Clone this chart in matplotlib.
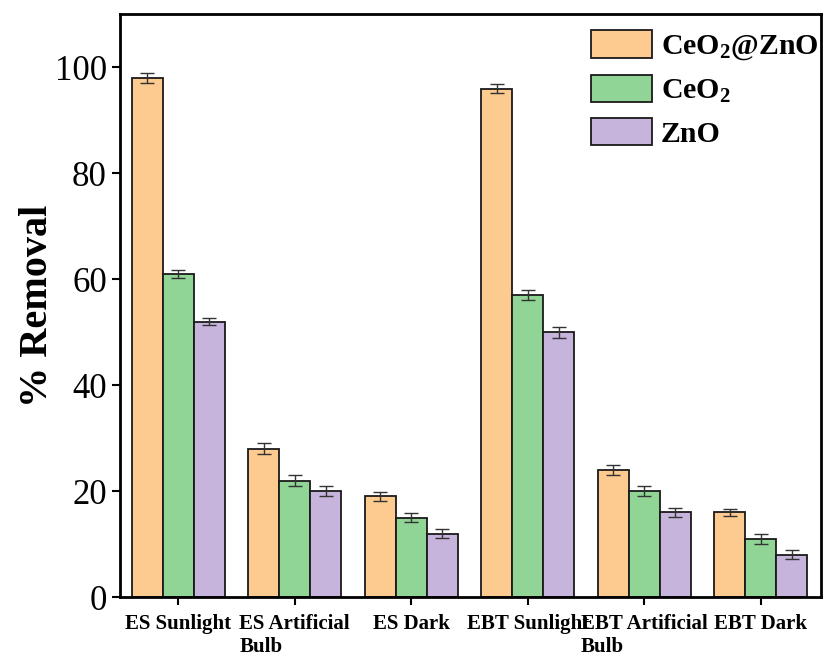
import numpy as np
import matplotlib
matplotlib.use('Agg')
import matplotlib.pyplot as plt

plt.rcParams['font.family'] = ['Liberation Serif', 'DejaVu Serif']
plt.rcParams['mathtext.fontset'] = 'custom'
plt.rcParams['mathtext.rm'] = 'Liberation Serif:bold'
plt.rcParams['mathtext.it'] = 'Liberation Serif:bold'
plt.rcParams['mathtext.bf'] = 'Liberation Serif:bold'

categories = ['ES Sunlight', 'ES Artificial\nBulb', 'ES Dark',
              'EBT Sunlight', 'EBT Artificial\nBulb', 'EBT Dark']
ceo2_zno = [98, 28, 19, 96, 24, 16]
ceo2 = [61, 22, 15, 57, 20, 11]
zno = [52, 20, 12, 50, 16, 8]
err_ceo2_zno = [1.0, 1.0, 0.8, 0.8, 1.0, 0.7]
err_ceo2 = [0.8, 1.0, 0.8, 1.0, 1.0, 0.9]
err_zno = [0.7, 1.0, 0.8, 1.0, 0.9, 0.9]
labels = ['CeO$_2$@ZnO', 'CeO$_2$', 'ZnO']
colors = ['#FDCA8F', '#90D596', '#C6B4DD']

fig = plt.figure(figsize=(8.31, 6.59), dpi=100)
ax = fig.add_axes([0.1444, 0.094, 0.844, 0.884])

x = np.arange(len(categories))
w = 0.265
series = [(ceo2_zno, err_ceo2_zno), (ceo2, err_ceo2), (zno, err_zno)]
for i, (vals, errs) in enumerate(series):
    ax.bar(x + (i - 1) * w, vals, w, color=colors[i], edgecolor='#1a1a1a',
           linewidth=1.3, label=labels[i], zorder=2)
    ax.errorbar(x + (i - 1) * w, vals, yerr=errs, fmt='none', ecolor='#333333',
                elinewidth=1, capsize=5, capthick=1, zorder=3)

ax.set_xlim(-0.5, 5.52)
ax.set_ylim(0, 110)
ax.set_yticks([0, 20, 40, 60, 80, 100])
ax.set_xticks(x)
ax.set_xticklabels(categories, fontsize=15, fontweight='bold')
for lab in ax.get_xticklabels():
    lab.set_multialignment('left')
ax.tick_params(axis='y', labelsize=25, direction='out', length=6, width=1.5)
ax.tick_params(axis='x', direction='out', length=6, width=1.5, pad=6)
for s in ax.spines.values():
    s.set_linewidth(2)

ax.set_ylabel('% Removal', fontsize=29, fontweight='bold', labelpad=-1)

ax.legend(loc='upper right', bbox_to_anchor=(1.024, 1.007), frameon=False,
          prop={'size': 21.5, 'weight': 'bold'},
          handlelength=2.05, handleheight=1.05, labelspacing=0.42,
          handletextpad=0.3, borderaxespad=0.25)

fig.savefig('out.png', dpi=100)
